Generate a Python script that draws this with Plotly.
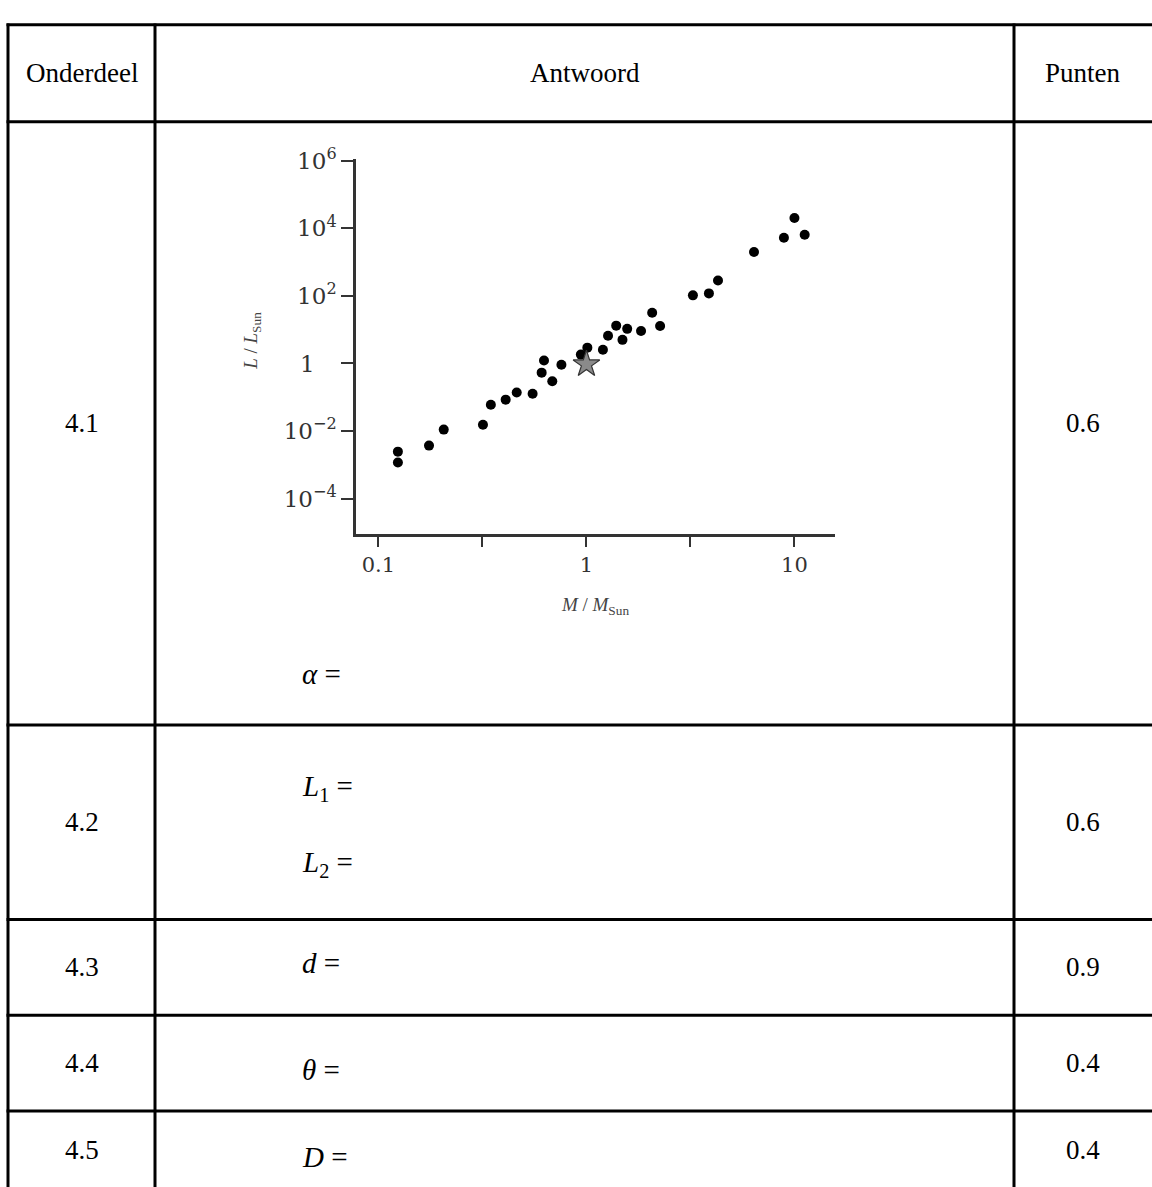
import plotly.graph_objects as go

W, H = 1152, 1187

# ---- data ----
mass = [0.124, 0.124, 0.175, 0.206, 0.318, 0.347, 0.409, 0.462, 0.551, 0.609,
        0.625, 0.685, 0.758, 0.94, 1.01, 1.20, 1.27, 1.39, 1.49, 1.57,
        1.83, 2.07, 2.26, 3.25, 3.88, 4.29, 6.39, 8.9, 10.0, 11.2]
lum = [0.00245, 0.00117, 0.0037, 0.011, 0.0154, 0.060, 0.085, 0.139, 0.127, 0.535,
       1.22, 0.298, 0.92, 1.83, 2.94, 2.56, 6.59, 13.2, 5.0, 10.6,
       9.2, 31.6, 12.9, 104, 119, 286, 2000, 5280, 20300, 6460]
sun_mass = [1.0]
sun_lum = [0.95]

x_tickvals = [0.1, 1, 10]
x_ticktext = ["0.1", "1", "10"]
x_minor_tickvals = [0.316, 3.16]
y_tickvals = [1e-4, 1e-2, 1, 1e2, 1e4, 1e6]
y_ticktext = ["10<sup>\u22124</sup>", "10<sup>\u22122</sup>", "1&nbsp;&nbsp;&nbsp;",
              "10<sup>2</sup>", "10<sup>4</sup>", "10<sup>6</sup>"]
y_title = "<i>L</i> / <i>L</i><sub>Sun</sub>"
y_title_at = 0.67   # luminosity value the rotated y title is centred on
x_title = "<i>M</i> / <i>M</i><sub>Sun</sub>"

headers = ["Onderdeel", "Antwoord", "Punten"]
parts = ["4.1", "4.2", "4.3", "4.4", "4.5"]
points = ["0.6", "0.6", "0.9", "0.4", "0.4"]
answers = [["<i>\u03b1</i> ="], ["<i>L</i><sub>1</sub> =", "<i>L</i><sub>2</sub> ="],
           ["<i>d</i> ="], ["<i>\u03b8</i> ="], ["<i>D</i> ="]]

# ---- layout geometry (pixels) ----
def px(x):
    return x / W

def py(y):
    return 1 - y / H

col_x = [8, 155, 1014]
row_y = [10, 108, 719, 916, 1013, 1110]
row_mid = [59, 413, 817, 964, 1061, 1150]
answer_y = [[667], [783, 860], [960], [1068], [1157]]
answer_x = 300

fig = go.Figure()
fig.add_trace(go.Scatter(x=mass, y=lum, mode="markers",
                         marker=dict(symbol="circle", size=10, color="#000000"),
                         showlegend=False, hoverinfo="skip"))
fig.add_trace(go.Scatter(x=sun_mass, y=sun_lum, mode="markers",
                         marker=dict(symbol="star", size=20, color="#8a8a8a",
                                     line=dict(color="#333333", width=1.2)),
                         showlegend=False, hoverinfo="skip"))

serif = "Liberation Serif"
plotfont = "DejaVu Serif"

fig.update_layout(
    width=W, height=H, margin=dict(l=0, r=0, t=0, b=0),
    paper_bgcolor="white", plot_bgcolor="white",
    xaxis=dict(type="log", domain=[px(356), px(835)], range=[-1.108, 1.195],
               tickvals=x_tickvals, ticktext=x_ticktext, ticks="outside",
               ticklen=10, tickwidth=2, tickcolor="#333333",
               minor=dict(tickvals=x_minor_tickvals, ticks="outside", ticklen=10,
                          tickwidth=2, tickcolor="#333333", showgrid=False),
               showline=True, linewidth=2.5, linecolor="#333333",
               showgrid=False, zeroline=False,
               tickfont=dict(family=plotfont, size=21, color="#333333"),
               title=dict(text=x_title,
                          font=dict(family=serif, size=19, color="#444444"),
                          standoff=22)),
    yaxis=dict(type="log", domain=[py(526), py(146)], range=[-5.06, 6.05],
               tickvals=y_tickvals, ticktext=y_ticktext, ticks="outside",
               ticklen=12, tickwidth=2, tickcolor="#333333",
               showline=True, linewidth=2.5, linecolor="#333333",
               showgrid=False, zeroline=False,
               tickfont=dict(family=plotfont, size=23, color="#333333")),
)

shapes = []
for y in row_y:
    shapes.append(dict(type="line", xref="paper", yref="paper",
                       x0=px(col_x[0] - 1.5), x1=px(W), y0=py(y), y1=py(y),
                       line=dict(color="black", width=3)))
for x in col_x:
    shapes.append(dict(type="line", xref="paper", yref="paper",
                       x0=px(x), x1=px(x), y0=py(row_y[0] - 1.5), y1=py(H),
                       line=dict(color="black", width=3)))
fig.update_layout(shapes=shapes)

col_mid = [(col_x[0] + col_x[1]) / 2, (col_x[1] + col_x[2]) / 2, (col_x[2] + W) / 2]
annotations = [dict(x=px(252), y=y_title_at, xref="paper", yref="y", yanchor="middle",
                    xanchor="center", text=y_title, textangle=-90, showarrow=False,
                    font=dict(family=serif, size=19, color="#444444"))]
for i, h in enumerate(headers):
    annotations.append(dict(x=px(col_mid[i]), y=py(row_mid[0]), xref="paper", yref="paper",
                            text=h, showarrow=False, xanchor="center", yanchor="middle",
                            font=dict(family=serif, size=27, color="black")))
for i, p in enumerate(parts):
    annotations.append(dict(x=px(col_mid[0]), y=py(row_mid[i + 1]), xref="paper", yref="paper",
                            text=p, showarrow=False, xanchor="center", yanchor="middle",
                            font=dict(family=serif, size=27, color="black")))
    annotations.append(dict(x=px(col_mid[2]), y=py(row_mid[i + 1]), xref="paper", yref="paper",
                            text=points[i], showarrow=False, xanchor="center", yanchor="middle",
                            font=dict(family=serif, size=27, color="black")))
    for t, yy in zip(answers[i], answer_y[i]):
        annotations.append(dict(x=px(answer_x), y=py(yy), xref="paper", yref="paper",
                                text=t, showarrow=False, xanchor="left", yanchor="middle",
                                font=dict(family=serif, size=29, color="black")))
fig.update_layout(annotations=annotations)

fig.write_html("out.html")
